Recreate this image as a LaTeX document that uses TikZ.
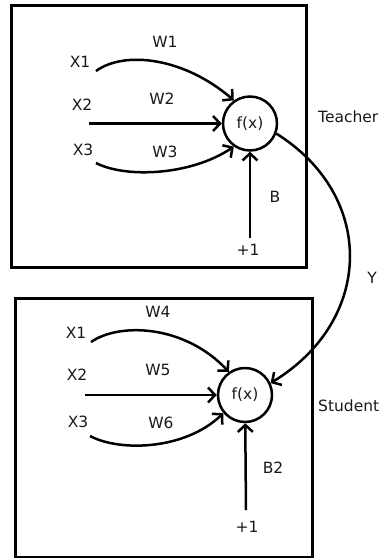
\documentclass[tikz,border=0pt]{standalone}
\usepackage{fontspec}
\setmainfont{DejaVu Sans}
\usetikzlibrary{arrows.meta}
\begin{document}
\begin{tikzpicture}[x=1pt,y=-1pt,
  frame/.style={line width=3pt},
  lbl/.style={font=\fontsize{15.5}{18}\selectfont, inner sep=0pt, text=black!90},
  neuron/.style={circle, draw, line width=2.5pt, minimum size=54pt, inner sep=0pt, font=\fontsize{15.5}{18}\selectfont, text=black!90},
  conn/.style={line width=2.5pt, -{Straight Barb[length=7pt,width=15pt]}}]
\useasboundingbox (0,0) rectangle (383,558);
% frames
\draw[frame] (11,5) rectangle (306,267);
\draw[frame] (15,298) rectangle (312,557);
% teacher
\node[neuron] (tf) at (250,123.5) {f(x)};
\node[lbl] (tx1) at (80,62) {X1};
\node[lbl] (tx2) at (82,105) {X2};
\node[lbl] (tx3) at (83,150) {X3};
\node[lbl] (tw1) at (165,42) {W1};
\node[lbl] (tw2) at (162,99) {W2};
\node[lbl] (tw3) at (165,152) {W3};
\node[lbl] (tb) at (275,197) {B};
\node[lbl] (tp) at (248,250) {+1};
\node[lbl, anchor=west] (tname) at (318,117) {Teacher};
\coordinate (ts1) at (96,71);
\coordinate (ts2) at (89,123.5);
\coordinate (ts3) at (96,163);
\coordinate (tsb) at (250,238);
\draw[conn] (ts1) .. controls (125,50) and (185,58) .. (tf.125);
\draw[conn] (ts2) -- (tf);
\draw[conn] (ts3) .. controls (125,178) and (190,176) .. (tf.-125);
\draw[conn] (tsb) -- (tf);
% student
\node[neuron] (sf) at (245,395) {f(x)};
\node[lbl] (sx1) at (76,333) {X1};
\node[lbl] (sx2) at (77,375) {X2};
\node[lbl] (sx3) at (78,422) {X3};
\node[lbl] (sw4) at (158,312) {W4};
\node[lbl] (sw5) at (158,370) {W5};
\node[lbl] (sw6) at (161,423) {W6};
\node[lbl] (sb) at (273,468) {B2};
\node[lbl] (sp) at (247,527) {+1};
\node[lbl, anchor=west] (sname) at (318,406) {Student};
\coordinate (ss1) at (91,342);
\coordinate (ss2) at (85,395);
\coordinate (ss3) at (90,436);
\coordinate (ssb) at (246,510);
\draw[conn] (ss1) .. controls (120,322) and (185,325) .. (sf.125);
\draw[conn] (ss2) -- (sf);
\draw[conn] (ss3) .. controls (120,452) and (185,450) .. (sf.-140);
\draw[conn] (ssb) -- (sf);
% Y link
\node[lbl] (y) at (372,278) {Y};
\draw[conn] (tf.-21) .. controls (376,196) and (374,320) .. (sf.25);
\end{tikzpicture}
\end{document}
